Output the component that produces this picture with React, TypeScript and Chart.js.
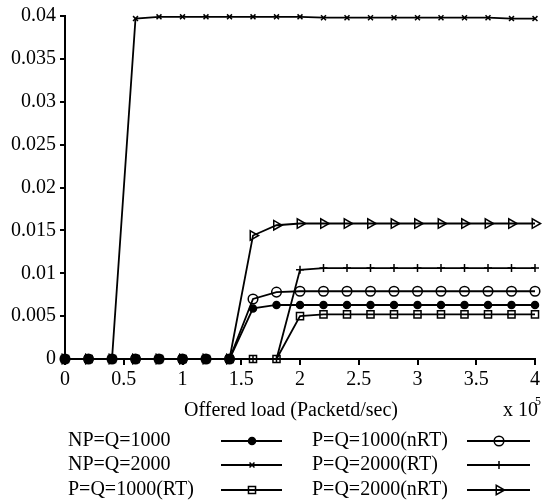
import React, { useEffect, useRef } from "react";
import { Chart, registerables } from "chart.js";
import { drawPoint } from "chart.js/helpers";

Chart.register(...registerables);

const xValues = [0, 0.2, 0.4, 0.6, 0.8, 1.0, 1.2, 1.4, 1.6, 1.8, 2.0, 2.2, 2.4, 2.6, 2.8, 3.0, 3.2, 3.4, 3.6, 3.8, 4.0];

const npQ1000 = [0, 0, 0, 0, 0, 0, 0, 0, 0.0059, 0.0063, 0.0063, 0.0063, 0.0063, 0.0063, 0.0063, 0.0063, 0.0063, 0.0063, 0.0063, 0.0063, 0.0063];
const npQ2000 = [0, 0, 0, 0.0397, 0.0399, 0.0399, 0.0399, 0.0399, 0.0399, 0.0399, 0.0399, 0.0398, 0.0398, 0.0398, 0.0398, 0.0398, 0.0398, 0.0398, 0.0398, 0.0397, 0.0397];
const pQ1000RT = [0, 0, 0, 0, 0, 0, 0, 0, 0, 0, 0.005, 0.0052, 0.0052, 0.0052, 0.0052, 0.0052, 0.0052, 0.0052, 0.0052, 0.0052, 0.0052];
const pQ1000nRT = [0, 0, 0, 0, 0, 0, 0, 0, 0.007, 0.0078, 0.0079, 0.0079, 0.0079, 0.0079, 0.0079, 0.0079, 0.0079, 0.0079, 0.0079, 0.0079, 0.0079];
const pQ2000RT = [0, 0, 0, 0, 0, 0, 0, 0, 0, 0, 0.0104, 0.0106, 0.0106, 0.0106, 0.0106, 0.0106, 0.0106, 0.0106, 0.0106, 0.0106, 0.0106];
const pQ2000nRT = [0, 0, 0, 0, 0, 0, 0, 0, 0.0144, 0.0156, 0.0158, 0.0158, 0.0158, 0.0158, 0.0158, 0.0158, 0.0158, 0.0158, 0.0158, 0.0158, 0.0158];

const xTickLabels = ["0", "0.5", "1", "1.5", "2", "2.5", "3", "3.5", "4"];
const yTickLabels = ["0", "0.005", "0.01", "0.015", "0.02", "0.025", "0.03", "0.035", "0.04"];

const xTitle = "Offered load (Packetd/sec)";
const xExponentBase = "x 10";
const xExponent = "5";

const FONT_FAMILY = '"Liberation Serif", "Times New Roman", serif';

type SeriesDef = {
  label: string;
  values: number[];
  pointStyle: string;
  radius: number;
  rotation: number;
  filled: boolean;
  legendCol: number;
  legendRow: number;
};

const series: SeriesDef[] = [
  { label: "NP=Q=1000", values: npQ1000, pointStyle: "circle", radius: 3.5, rotation: 0, filled: true, legendCol: 0, legendRow: 0 },
  { label: "NP=Q=2000", values: npQ2000, pointStyle: "crossRot", radius: 3.5, rotation: 0, filled: false, legendCol: 0, legendRow: 1 },
  { label: "P=Q=1000(RT)", values: pQ1000RT, pointStyle: "rect", radius: 5, rotation: 0, filled: false, legendCol: 0, legendRow: 2 },
  { label: "P=Q=1000(nRT)", values: pQ1000nRT, pointStyle: "circle", radius: 4.8, rotation: 0, filled: false, legendCol: 1, legendRow: 0 },
  { label: "P=Q=2000(RT)", values: pQ2000RT, pointStyle: "cross", radius: 4, rotation: 0, filled: false, legendCol: 1, legendRow: 1 },
  { label: "P=Q=2000(nRT)", values: pQ2000nRT, pointStyle: "triangle", radius: 5.5, rotation: 90, filled: false, legendCol: 1, legendRow: 2 },
];

const textPlugin = {
  id: "textAndLegend",
  afterDraw(chart: any) {
    const ctx = chart.ctx as CanvasRenderingContext2D;
    ctx.save();
    ctx.fillStyle = "#000";
    ctx.font = `20px ${FONT_FAMILY}`;
    ctx.textBaseline = "middle";
    ctx.textAlign = "center";
    ctx.fillText(xTitle, 291, 411);

    ctx.textAlign = "left";
    ctx.fillText(xExponentBase, 503, 411);
    ctx.font = `12px ${FONT_FAMILY}`;
    ctx.fillText(xExponent, 535, 402);

    const rowsY = [441, 465, 490];
    const cols = [
      { textX: 68, lineX0: 221, lineX1: 282, markX: 252 },
      { textX: 312, lineX0: 467, lineX1: 530, markX: 499 },
    ];
    series.forEach((s) => {
      const c = cols[s.legendCol];
      const y = rowsY[s.legendRow];
      ctx.font = `20px ${FONT_FAMILY}`;
      ctx.textAlign = "left";
      ctx.fillStyle = "#000";
      ctx.fillText(s.label, c.textX, y);
      ctx.strokeStyle = "#000";
      ctx.lineWidth = 2;
      ctx.beginPath();
      ctx.moveTo(c.lineX0, y);
      ctx.lineTo(c.lineX1, y);
      ctx.stroke();
      ctx.fillStyle = s.filled ? "#000" : "rgba(0,0,0,0)";
      ctx.lineWidth = 1.5;
      drawPoint(ctx, { pointStyle: s.pointStyle as any, rotation: s.rotation, radius: s.radius, borderWidth: 1.5 }, c.markX, y);
    });
    ctx.restore();
  },
};

export default function App() {
  const canvasRef = useRef<HTMLCanvasElement | null>(null);

  useEffect(() => {
    if (!canvasRef.current) return;
    const datasets = series.map((s) => ({
      label: s.label,
      data: xValues.map((x, i) => ({ x, y: s.values[i] })),
      borderColor: "#000",
      borderWidth: 1.8,
      backgroundColor: s.filled ? "#000" : "rgba(0,0,0,0)",
      pointStyle: s.pointStyle as any,
      pointRadius: s.radius,
      pointRotation: s.rotation,
      pointBorderColor: "#000",
      pointBackgroundColor: s.filled ? "#000" : "rgba(0,0,0,0)",
      pointBorderWidth: 1.5,
      tension: 0,
      clip: false as any,
    }));

    const chart = new Chart(canvasRef.current, {
      type: "line",
      data: { datasets },
      plugins: [textPlugin],
      options: {
        animation: false,
        responsive: true,
        maintainAspectRatio: false,
        layout: { padding: { left: 0, top: 14, right: 6, bottom: 0 } },
        plugins: {
          legend: { display: false },
          tooltip: { enabled: false },
          title: { display: false },
        },
        scales: {
          x: {
            type: "linear",
            min: 0,
            max: 4,
            afterFit: (scale: any) => {
              scale.height = 141;
            },
            afterBuildTicks: (scale: any) => {
              scale.ticks = xTickLabels.map((_, i) => ({ value: i * 0.5 }));
            },
            ticks: {
              color: "#000",
              font: { family: FONT_FAMILY, size: 20 },
              padding: 3,
              maxRotation: 0,
              autoSkip: false,
              callback: (_v: any, i: number) => xTickLabels[i],
            },
            grid: {
              display: true,
              drawOnChartArea: false,
              drawTicks: true,
              tickLength: 6,
              color: "#000",
              lineWidth: 2,
            },
            border: { display: true, color: "#000", width: 2 },
          },
          y: {
            type: "linear",
            min: 0,
            max: 0.04,
            afterFit: (scale: any) => {
              scale.width = 65;
            },
            afterBuildTicks: (scale: any) => {
              scale.ticks = yTickLabels.map((_, i) => ({ value: i * 0.005 }));
            },
            ticks: {
              color: "#000",
              font: { family: FONT_FAMILY, size: 20 },
              padding: 4,
              autoSkip: false,
              callback: (_v: any, i: number) => yTickLabels[i],
            },
            grid: {
              display: true,
              drawOnChartArea: false,
              drawTicks: true,
              tickLength: 5,
              color: "#000",
              lineWidth: 2,
            },
            border: { display: true, color: "#000", width: 2 },
          },
        },
      },
    });
    return () => chart.destroy();
  }, []);

  return (
    <div style={{ position: "absolute", left: 0, top: 0, width: 543, height: 500, background: "#fff" }}>
      <canvas ref={canvasRef} />
    </div>
  );
}
